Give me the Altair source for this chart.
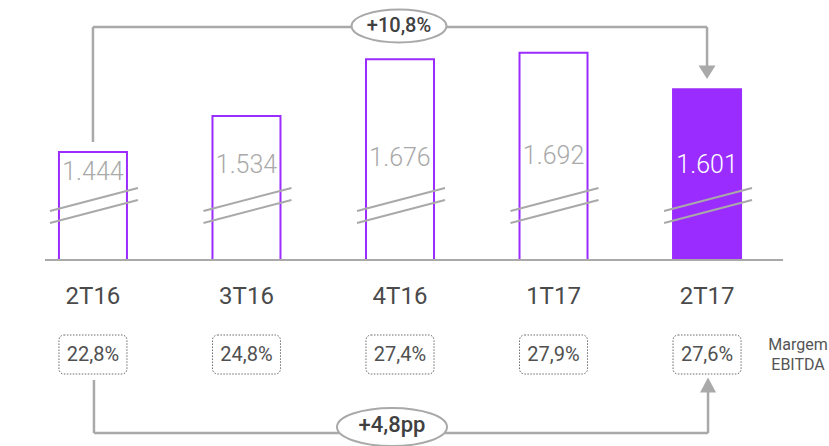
import altair as alt
import pandas as pd

# ---- data ----
quarters = ["2T16", "3T16", "4T16", "1T17", "2T17"]
ebitda = [1444, 1534, 1676, 1692, 1601]
margem = [22.8, 24.8, 27.4, 27.9, 27.6]
growth_label = "+10,8%"
margin_change_label = "+4,8pp"
margin_title = ["Margem", "EBITDA"]
axis_floor = 1174  # value at the broken baseline

# ---- style ----
PURPLE = "#9B2CFF"
GRAY = "#a9a9a9"
DARK = "#4a4a4a"
FONT = "Roboto"
label_shift = [8, 1, -6, -8, 1]

df = pd.DataFrame({
    "q": quarters,
    "v": ebitda,
    "lab": [f"{v:,}".replace(",", ".") for v in ebitda],
    "m": [f"{m:.1f}%".replace(".", ",") for m in margem],
    "hl": [q == quarters[-1] for q in quarters],
    "ly": [164 + s for s in label_shift],
})
conn = pd.DataFrame({
    "start": [quarters[0]], "end": [quarters[-1]], "mid": [quarters[2]],
    "v0": [ebitda[0]], "v1": [ebitda[-1]],
})

xs = alt.Scale(domain=quarters, paddingInner=0.557, paddingOuter=0.384)
ys = alt.Scale(domain=[709, 1824], nice=False, zero=False)
X = lambda f: alt.X(f"{f}:N", scale=xs, axis=None)
Y = lambda f: alt.Y(f"{f}:Q", scale=ys, axis=None)

base = alt.Chart(df)
cb = alt.Chart(conn)

bars = base.mark_bar(stroke=PURPLE, strokeWidth=2).encode(
    x=X("q"), y=Y("v"), y2=alt.datum(axis_floor),
    fill=alt.condition("datum.hl", alt.value(PURPLE), alt.value("white")),
)

baseline = cb.mark_rule(color=GRAY, strokeWidth=2, xOffset=-48, x2Offset=76).encode(
    x=X("start"), x2="end:N", y=alt.datum(axis_floor)
)

brk_path = "M -1 0.125 L 1 -0.398 M -1 0.398 L 1 -0.125"
breaks = base.mark_point(shape=brk_path, size=7744, filled=False, stroke=GRAY,
                         strokeWidth=2, opacity=1, xOffset=1).encode(
    x=X("q"), y=alt.value(205.5)
)

vlabels = base.mark_text(font=FONT, fontSize=25, fontWeight=300, align="center",
                         baseline="middle").encode(
    x=X("q"), y=alt.Y("ly:Q", scale=None), text="lab:N",
    color=alt.condition("datum.hl", alt.value("white"), alt.value(GRAY)),
)

qlabels = base.mark_text(font=FONT, fontSize=24, color=DARK, align="center",
                         baseline="middle").encode(
    x=X("q"), y=alt.value(297), text="q:N"
)

boxes = base.mark_rect(fill="white", stroke="#6a6a6a", strokeWidth=1,
                       strokeDash=[1.5, 1.5], cornerRadius=5).encode(
    x=X("q"), y=alt.value(335), y2=alt.value(374)
)
mlabels = base.mark_text(font=FONT, fontSize=20, color="#505050", align="center",
                         baseline="middle").encode(
    x=X("q"), y=alt.value(355), text="m:N"
)

mtitle = cb.mark_text(font=FONT, fontSize=16, color="#555555", align="center",
                      baseline="middle", lineHeight=20, xOffset=91,
                      text=margin_title).encode(
    x=X("end"), y=alt.value(345)
)

# top connector
t1 = cb.mark_rule(color=GRAY, strokeWidth=2.5, yOffset=-10).encode(
    x=X("start"), y=Y("v0"), y2=alt.value(27))
t2 = cb.mark_rule(color=GRAY, strokeWidth=2.5).encode(
    x=X("start"), x2="end:N", y=alt.value(27))
t3 = cb.mark_rule(color=GRAY, strokeWidth=2.5, yOffset=-22).encode(
    x=X("end"), y=Y("v1"), y2=alt.value(27))
t4 = cb.mark_point(shape="M -1 -0.8 L 1 -0.8 L 0 0.8 Z", size=289, filled=True,
                   color=GRAY, opacity=1, yOffset=-17).encode(
    x=X("end"), y=Y("v1"))
ell = "M -1 0 A 1 0.347 0 1 1 1 0 A 1 0.347 0 1 1 -1 0 Z"
t5 = cb.mark_point(shape=ell, size=95 * 95, filled=True, fill="white", stroke=GRAY,
                   strokeWidth=2, opacity=1, xOffset=-1).encode(
    x=X("mid"), y=alt.value(26))
t6 = cb.mark_text(font=FONT, fontSize=20, fontWeight=500, color="#404040",
                  align="center", baseline="middle", xOffset=-1,
                  text=growth_label).encode(x=X("mid"), y=alt.value(26))

# bottom connector
b1 = cb.mark_rule(color=GRAY, strokeWidth=2.5, xOffset=1).encode(
    x=X("start"), y=alt.value(380), y2=alt.value(433))
b2 = cb.mark_rule(color=GRAY, strokeWidth=2.5, xOffset=1, x2Offset=1).encode(
    x=X("start"), x2="end:N", y=alt.value(433))
b3 = cb.mark_rule(color=GRAY, strokeWidth=2.5, xOffset=1).encode(
    x=X("end"), y=alt.value(392), y2=alt.value(433))
b4 = cb.mark_point(shape="M -1 0.94 L 1 0.94 L 0 -0.94 Z", size=256, filled=True,
                   color=GRAY, opacity=1, xOffset=1).encode(
    x=X("end"), y=alt.value(385))
b5 = cb.mark_point(shape=ell, size=110 * 110, filled=True, fill="white", stroke=GRAY,
                   strokeWidth=2, opacity=1, xOffset=-8).encode(
    x=X("mid"), y=alt.value(427))
b6 = cb.mark_text(font=FONT, fontSize=22, fontWeight=500, color="#404040",
                  align="center", baseline="middle", xOffset=-8,
                  text=margin_change_label).encode(x=X("mid"), y=alt.value(425))

chart = alt.layer(
    t1, t2, t3, t4, t5, t6,
    bars, baseline, breaks, vlabels, qlabels,
    b1, b2, b3, b4, b5, b6,
    boxes, mlabels, mtitle,
).properties(
    width=800, height=446, autosize="none",
    padding={"left": 0, "right": 29, "top": 0, "bottom": 0},
).configure_view(stroke=None)

chart.save("out.html", embed_options={"renderer": "svg", "actions": False})
